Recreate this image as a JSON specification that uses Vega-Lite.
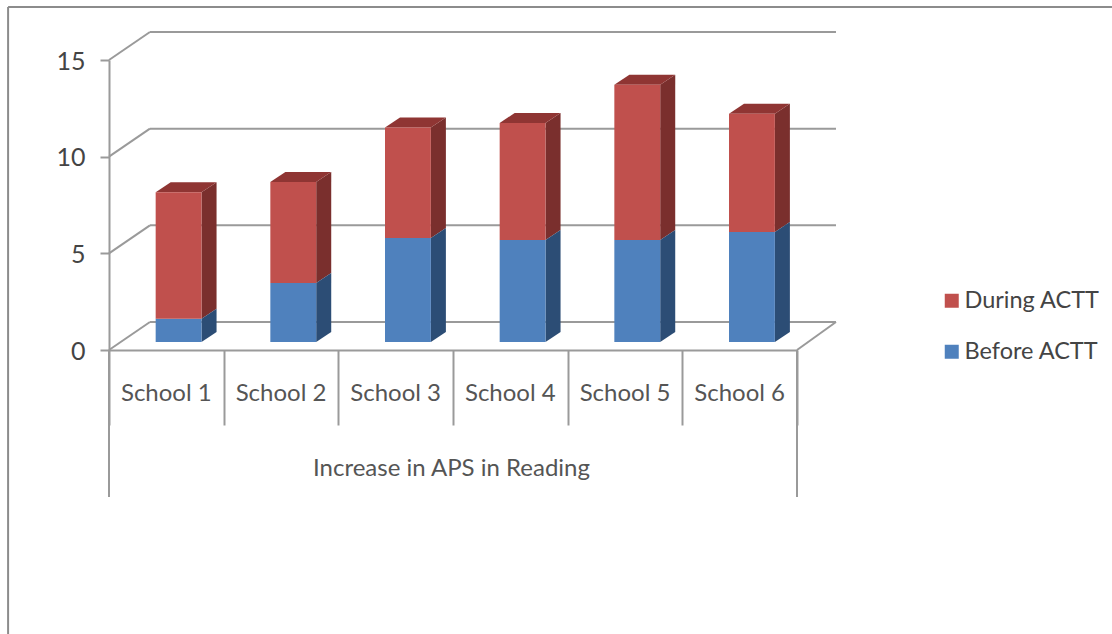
{
  "$schema": "https://vega.github.io/schema/vega-lite/v6.json",
  "width": 688,
  "height": 290,
  "autosize": "none",
  "padding": {"left": 109, "top": 60, "right": 315, "bottom": 284},
  "background": "white",
  "config": {"font": "Lato", "view": {"stroke": null}},
  "datasets": {
    "scores": [
      {"school": "School 1", "Before ACTT": 1.2, "During ACTT": 6.55},
      {"school": "School 2", "Before ACTT": 3.05, "During ACTT": 5.23},
      {"school": "School 3", "Before ACTT": 5.38, "During ACTT": 5.72},
      {"school": "School 4", "Before ACTT": 5.28, "During ACTT": 6.05},
      {"school": "School 5", "Before ACTT": 5.28, "During ACTT": 8.02},
      {"school": "School 6", "Before ACTT": 5.69, "During ACTT": 6.11}
    ],
    "levels": [{"level": 0}, {"level": 5}, {"level": 10}, {"level": 15}]
  },
  "layer": [
    {
      "description": "Outer frame of the chart object",
      "data": {"values": [{}]},
      "layer": [
        {
          "mark": {"type": "rule", "color": "#8c8c8c", "strokeWidth": 2},
          "encoding": {
            "x": {"datum": -0.88, "type": "quantitative", "scale": {"domain": [0, 6], "nice": false}},
            "y": {"datum": 17.74, "type": "quantitative", "scale": {"domain": [0, 15], "nice": false}},
            "y2": {"datum": -14.7}
          }
        },
        {
          "mark": {"type": "rule", "color": "#8c8c8c", "strokeWidth": 2},
          "encoding": {
            "x": {"datum": -0.88, "type": "quantitative"},
            "x2": {"datum": 8.75},
            "y": {"datum": 17.74, "type": "quantitative"}
          }
        },
        {
          "description": "Long outer dividers of the multi-level category axis",
          "mark": {"type": "rule", "color": "#9a9a9a", "strokeWidth": 2},
          "encoding": {
            "x": {"datum": 0, "type": "quantitative"},
            "y": {"datum": 0, "type": "quantitative"},
            "y2": {"datum": -7.6}
          }
        },
        {
          "mark": {"type": "rule", "color": "#9a9a9a", "strokeWidth": 2},
          "encoding": {
            "x": {"datum": 6, "type": "quantitative"},
            "y": {"datum": 0, "type": "quantitative"},
            "y2": {"datum": -7.6}
          }
        },
        {
          "description": "Right edge of the floor",
          "mark": {"type": "rule", "color": "#9a9a9a", "strokeWidth": 2},
          "encoding": {
            "x": {"datum": 6, "type": "quantitative"},
            "x2": {"datum": 6.34},
            "y": {"datum": 0, "type": "quantitative"},
            "y2": {"datum": 1.45}
          }
        }
      ]
    },
    {
      "description": "Gridlines on the back wall and their slants across the side wall",
      "data": {"name": "levels"},
      "transform": [{"calculate": "datum.level + 1.45", "as": "wall"}],
      "layer": [
        {
          "mark": {"type": "rule", "color": "#9a9a9a", "strokeWidth": 2},
          "encoding": {
            "x": {"datum": 0.357, "type": "quantitative"},
            "x2": {"datum": 6.34},
            "y": {"field": "wall", "type": "quantitative"}
          }
        },
        {
          "mark": {"type": "rule", "color": "#9a9a9a", "strokeWidth": 2},
          "encoding": {
            "x": {"datum": 0, "type": "quantitative"},
            "x2": {"datum": 0.357},
            "y": {"field": "level", "type": "quantitative"},
            "y2": {"field": "wall"}
          }
        }
      ]
    },
    {
      "description": "Stacked columns, projected into an oblique 3-D view",
      "data": {"name": "scores"},
      "transform": [
        {"window": [{"op": "row_number", "as": "rank"}]},
        {"fold": ["Before ACTT", "During ACTT"], "as": ["series", "amount"]},
        {"stack": "amount", "groupby": ["school"], "sort": [{"field": "series", "order": "ascending"}], "as": ["low", "high"]},
        {"calculate": "datum.rank - 1 + 0.407", "as": "left"},
        {"calculate": "datum.left + 0.4", "as": "right"},
        {"calculate": "datum.low + 0.414", "as": "base"},
        {"calculate": "datum.high + 0.414", "as": "cap"},
        {"calculate": "datum.rank - 0.5", "as": "middle"}
      ],
      "layer": [
        {
          "transform": [
            {"filter": "datum.series === 'During ACTT'"},
            {"calculate": "[0, 1]", "as": "depth"},
            {"flatten": ["depth"]},
            {"calculate": "datum.right + datum.depth * 0.131", "as": "sx"},
            {"calculate": "datum.base + datum.depth * 0.517", "as": "sy"},
            {"calculate": "datum.cap + datum.depth * 0.517", "as": "sy2"}
          ],
          "mark": {"type": "area", "orient": "vertical", "color": "#7a2f2d"},
          "encoding": {
            "x": {"field": "sx", "type": "quantitative"},
            "y": {"field": "sy", "type": "quantitative", "stack": null},
            "y2": {"field": "sy2"},
            "detail": {"field": "school"}
          }
        },
        {
          "transform": [
            {"filter": "datum.series === 'Before ACTT'"},
            {"calculate": "[0, 1]", "as": "depth"},
            {"flatten": ["depth"]},
            {"calculate": "datum.right + datum.depth * 0.131", "as": "sx"},
            {"calculate": "datum.base + datum.depth * 0.517", "as": "sy"},
            {"calculate": "datum.cap + datum.depth * 0.517", "as": "sy2"}
          ],
          "mark": {"type": "area", "orient": "vertical", "color": "#2c4d75"},
          "encoding": {
            "x": {"field": "sx", "type": "quantitative"},
            "y": {"field": "sy", "type": "quantitative", "stack": null},
            "y2": {"field": "sy2"},
            "detail": {"field": "school"}
          }
        },
        {
          "transform": [
            {"filter": "datum.series === 'During ACTT'"},
            {"calculate": "[0, 1]", "as": "depth"},
            {"flatten": ["depth"]},
            {"calculate": "datum.left + datum.depth * 0.131", "as": "tx"},
            {"calculate": "datum.right + datum.depth * 0.131", "as": "tx2"},
            {"calculate": "datum.cap + datum.depth * 0.517", "as": "ty"}
          ],
          "mark": {"type": "area", "orient": "horizontal", "color": "#8f3533"},
          "encoding": {
            "y": {"field": "ty", "type": "quantitative"},
            "x": {"field": "tx", "type": "quantitative", "stack": null},
            "x2": {"field": "tx2"},
            "detail": {"field": "school"}
          }
        },
        {
          "mark": {"type": "rect"},
          "encoding": {
            "x": {
              "field": "left",
              "type": "quantitative",
              "axis": {
                "values": [0, 1, 2, 3, 4, 5, 6],
                "labels": false,
                "grid": false,
                "domainColor": "#9a9a9a",
                "domainWidth": 2,
                "tickColor": "#9a9a9a",
                "tickWidth": 2,
                "tickSize": 75,
                "title": "Increase in APS in Reading",
                "titleFont": "Lato",
                "titleFontSize": 24,
                "titleFontWeight": "normal",
                "titleColor": "#555555",
                "titlePadding": 30,
                "titleX": 342
              }
            },
            "x2": {"field": "right"},
            "y": {
              "field": "base",
              "type": "quantitative",
              "stack": null,
              "axis": {
                "values": [0, 5, 10, 15],
                "grid": false,
                "title": null,
                "domainColor": "#9a9a9a",
                "domainWidth": 2,
                "tickColor": "#9a9a9a",
                "tickWidth": 2,
                "tickSize": 9,
                "labelFont": "Lato",
                "labelFontSize": 25,
                "labelColor": "#444444",
                "labelPadding": 15,
                "labelOffset": 1
              }
            },
            "y2": {"field": "cap"},
            "color": {
              "field": "series",
              "type": "nominal",
              "scale": {"domain": ["During ACTT", "Before ACTT"], "range": ["#c0504d", "#4f81bd"]},
              "legend": {
                "orient": "none",
                "legendX": 831,
                "legendY": 229,
                "title": null,
                "symbolType": "square",
                "symbolSize": 196,
                "symbolStrokeWidth": 0,
                "labelFont": "Lato",
                "labelFontSize": 23.5,
                "labelColor": "#444444",
                "labelOffset": 1,
                "rowPadding": 26
              }
            }
          }
        },
        {
          "transform": [{"filter": "datum.series === 'Before ACTT'"}],
          "mark": {"type": "text", "dy": 44, "fontSize": 24, "font": "Lato", "color": "#555555"},
          "encoding": {
            "x": {"field": "middle", "type": "quantitative"},
            "y": {"datum": 0, "type": "quantitative"},
            "text": {"field": "school"}
          }
        }
      ]
    }
  ]
}
